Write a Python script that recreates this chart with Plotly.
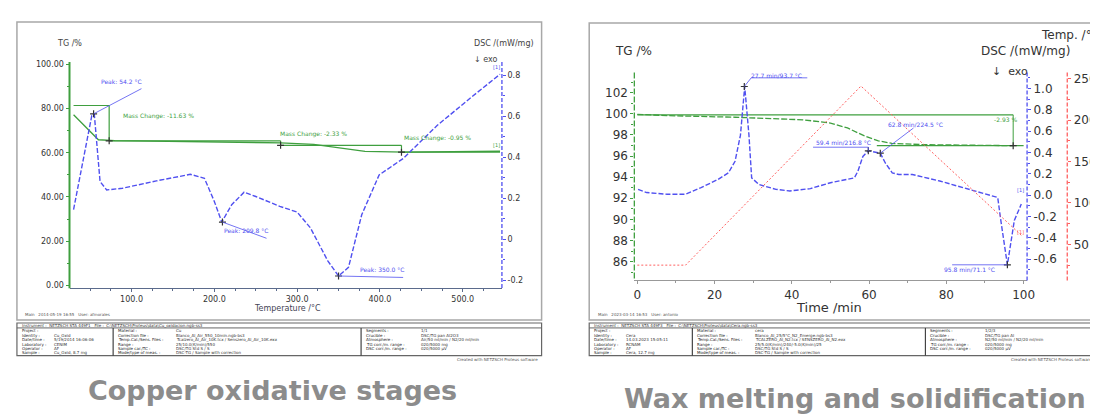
import plotly.graph_objects as go

W, H = 1098, 418

# ---------------- Copper oxidative stages (left) ----------------
cu_tg_temp = [30, 45, 60, 80, 120, 200, 280, 320, 350, 382, 430, 480, 545]
cu_tg = [77.2, 71.5, 65.9, 65.5, 65.3, 65.0, 64.5, 63.8, 62.3, 60.6, 60.3, 60.4, 60.7]

cu_dsc_temp = [30, 52, 55, 59, 62, 70, 89, 130, 171, 188, 200, 209, 221, 236, 250, 279,
               300, 316, 337, 350, 362, 378, 399, 428, 469, 510, 545]
cu_dsc = [0.145, 0.603, 0.612, 0.443, 0.282, 0.241, 0.249, 0.285, 0.317, 0.298, 0.185, 0.084,
          0.169, 0.23, 0.209, 0.161, 0.133, 0.056, -0.105, -0.179, -0.137, 0.12, 0.314, 0.394,
          0.555, 0.692, 0.805]

cu_step_temp = [30, 73, 280, 426, 545]
cu_step_tg = [81.4, 65.4, 63.4, 60.3]
cu_mass_labels = ["Mass Change: -11.63 %", "Mass Change: -2.33 %", "Mass Change: -0.95 %"]

cu_peak_temp = [54.2, 209.8, 350.0]
cu_peak_dsc = [0.612, 0.084, -0.179]
cu_peak_labels = ["Peak: 54.2 °C", "Peak: 209.8 °C", "Peak: 350.0 °C"]

cu_tg_ticks = [0, 20, 40, 60, 80, 100]
cu_dsc_ticks = [-0.2, 0, 0.2, 0.4, 0.6, 0.8]
cu_dsc_ticktext = ["-0.2", "0", "0.2", "0.4", "0.6", "0.8"]
cu_temp_ticks = [100, 200, 300, 400, 500]

# ---------------- Wax melting and solidification (right) ----------------
wax_tg_time = [0, 7.7, 25.3, 42.9, 50, 54.4, 58.8, 62.4, 65.9, 74.7, 97.3]
wax_tg = [99.95, 99.83, 99.67, 99.43, 99.12, 98.66, 97.9, 97.44, 97.19, 97.07, 96.98]

wax_dsc_time = [0.2, 2.4, 7.7, 12.5, 16.5, 20.9, 23.6, 25.3, 26.7, 27.8, 28.9, 29.6, 31.5, 35.9,
                39.5, 44.8, 50, 56.2, 57.1, 58.4, 59.8, 61.5, 62.9, 64.2, 66, 67.7, 71.2, 78.3,
                87.1, 92.7, 93.3, 94.1, 95.8, 97.6, 99.4]
wax_dsc = [0.055, 0.025, 0.009, 0.009, 0.071, 0.148, 0.21, 0.318, 0.563, 1.019, 0.563, 0.163,
           0.10, 0.055, 0.04, 0.062, 0.117, 0.163, 0.225, 0.364, 0.416, 0.403, 0.394, 0.302,
           0.21, 0.194, 0.194, 0.133, 0.04, -0.012, -0.021, -0.236, -0.652, -0.236, -0.083]

wax_temp_time = [0, 12.5, 57.9, 99.4]
wax_temp = [25, 25, 241, 61]

wax_tg_ref = [99.9, 96.98]
wax_mass_label = "-2.93 %"

wax_peak_time = [27.7, 59.8, 62.9, 95.8]
wax_peak_dsc = [1.019, 0.416, 0.394, -0.652]
wax_peak_labels = ["27.7 min/93.7 °C", "59.4 min/216.8 °C", "62.8 min/224.5 °C", "95.8 min/71.1 °C"]

wax_tg_ticks = [86, 88, 90, 92, 94, 96, 98, 100, 102]
wax_dsc_ticks = [-0.6, -0.4, -0.2, 0.0, 0.2, 0.4, 0.6, 0.8, 1.0]
wax_dsc_ticktext = ["-0.6", "-0.4", "-0.2", "0.0", "0.2", "0.4", "0.6", "0.8", "1.0"]
wax_temp_ticks = [50, 100, 150, 200, 250]
wax_time_ticks = [0, 20, 40, 60, 80, 100]

captions = ["Copper oxidative stages", "Wax melting and solidification"]

# ---------------- helpers ----------------
def fx(x):
    return x / W

def fy(y):
    return 1 - y / H

GREEN = "#3f9f3f"
BLUE = "#5050f0"
RED = "#ff6060"
FONT = "DejaVu Sans"

fig = go.Figure()

# ----- left traces -----
fig.add_trace(go.Scatter(x=cu_tg_temp, y=cu_tg, xaxis="x", yaxis="y", mode="lines",
                         line=dict(color=GREEN, width=1.3), hoverinfo="skip"))
sx, sy = [], []
for i in range(len(cu_step_tg)):
    sx += [cu_step_temp[i], cu_step_temp[i + 1], None]
    sy += [cu_step_tg[i], cu_step_tg[i], None]
    if i + 1 < len(cu_step_tg):
        sx += [cu_step_temp[i + 1], cu_step_temp[i + 1], None]
        sy += [cu_step_tg[i], cu_step_tg[i + 1], None]
fig.add_trace(go.Scatter(x=sx, y=sy, xaxis="x", yaxis="y", mode="lines",
                         line=dict(color=GREEN, width=1.2), hoverinfo="skip"))
fig.add_trace(go.Scatter(x=cu_step_temp[1:4], y=cu_step_tg[1:4], xaxis="x", yaxis="y", mode="markers",
                         marker=dict(symbol="cross-thin", size=5, line=dict(color="#333", width=1.2)),
                         hoverinfo="skip"))
fig.add_trace(go.Scatter(x=cu_dsc_temp, y=cu_dsc, xaxis="x", yaxis="y2", mode="lines",
                         line=dict(color=BLUE, width=1.4, dash="5px,2px"), hoverinfo="skip"))
fig.add_trace(go.Scatter(x=cu_peak_temp, y=cu_peak_dsc, xaxis="x", yaxis="y2", mode="markers",
                         marker=dict(symbol="cross-thin", size=5, line=dict(color="#333", width=1.2)),
                         hoverinfo="skip"))

cu_label_pos = [(62, 0.735), (213, 0.005), (378, -0.186)]
cu_label_end = [(112, 0.735), (263, 0.005), (428, -0.186)]
lx, ly = [], []
for (pt, pdv), (ax_, ay_), (ex, ey) in zip(zip(cu_peak_temp, cu_peak_dsc), cu_label_pos, cu_label_end):
    lx += [pt, ex, None] if pt < ax_ else [pt, ax_, ex, None]
    ly += [pdv, ey, None] if pt < ax_ else [pdv, ay_, ey, None]
fig.add_trace(go.Scatter(x=lx, y=ly, xaxis="x", yaxis="y2", mode="lines",
                         line=dict(color=BLUE, width=0.8), hoverinfo="skip"))

# ----- right traces -----
fig.add_trace(go.Scatter(x=wax_temp_time, y=wax_temp, xaxis="x2", yaxis="y5", mode="lines",
                         line=dict(color=RED, width=1, dash="2px,2px"), hoverinfo="skip"))
fig.add_trace(go.Scatter(x=[0, 97.3, None, 62, 100], y=[wax_tg_ref[0], wax_tg_ref[0], None, wax_tg_ref[1], wax_tg_ref[1]],
                         xaxis="x2", yaxis="y3", mode="lines", line=dict(color=GREEN, width=1.4), hoverinfo="skip"))
fig.add_trace(go.Scatter(x=[97.3, 97.3], y=wax_tg_ref, xaxis="x2", yaxis="y3", mode="lines",
                         line=dict(color=GREEN, width=1), hoverinfo="skip"))
fig.add_trace(go.Scatter(x=wax_tg_time, y=wax_tg, xaxis="x2", yaxis="y3", mode="lines",
                         line=dict(color=GREEN, width=1.3, dash="6px,2px"), hoverinfo="skip"))
fig.add_trace(go.Scatter(x=[97.3], y=[wax_tg_ref[1]], xaxis="x2", yaxis="y3", mode="markers",
                         marker=dict(symbol="cross-thin", size=5, line=dict(color="#333", width=1.2)),
                         hoverinfo="skip"))
fig.add_trace(go.Scatter(x=wax_dsc_time, y=wax_dsc, xaxis="x2", yaxis="y4", mode="lines",
                         line=dict(color=BLUE, width=1.4, dash="5px,2px"), hoverinfo="skip"))
fig.add_trace(go.Scatter(x=wax_peak_time, y=wax_peak_dsc, xaxis="x2", yaxis="y4", mode="markers",
                         marker=dict(symbol="cross-thin", size=5, line=dict(color="#333", width=1.2)),
                         hoverinfo="skip"))
wax_label_lines = [((29.5, 1.1), (44, 1.1)), ((59.8, 0.45), (45.5, 0.45)),
                   ((71.5, 0.63), (71.5, 0.63)), ((95.8, -0.652), (81.5, -0.652))]
wx, wy = [], []
for (pt, pdv), (a, b) in zip(zip(wax_peak_time, wax_peak_dsc), wax_label_lines):
    wx += [pt, a[0], b[0], None]
    wy += [pdv, a[1], b[1], None]
fig.add_trace(go.Scatter(x=wx, y=wy, xaxis="x2", yaxis="y4", mode="lines",
                         line=dict(color=BLUE, width=0.8), hoverinfo="skip"))

# ---------------- annotations ----------------
ann = []

def text(x, y, s, size, color="#333", xanchor="center", yanchor="middle", xref="paper", yref="paper",
         bold=False, family=FONT):
    if xref == "paper":
        x = fx(x)
    if yref == "paper":
        y = fy(y)
    ann.append(dict(x=x, y=y, xref=xref, yref=yref, text=("<b>%s</b>" % s) if bold else s,
                    showarrow=False, xanchor=xanchor, yanchor=yanchor,
                    font=dict(size=size, color=color, family=family)))

# left panel titles
text(61, 34, "TG /%", 8, "#444")
text(499, 34, "DSC /(mW/mg)", 8, "#444")
text(481, 50, "↓ exo", 8, "#444")
text(281, 301, "Temperature /°C", 8, "#445")
text(14, 307, "Main   2014-05-19 16:55   User: afmorales", 4, "#555", xanchor="left")
text(88, 0.745, cu_peak_labels[0], 6, BLUE, xref="x", yref="y2", yanchor="bottom")
text(238, 0.015, cu_peak_labels[1], 6, BLUE, xref="x", yref="y2", yanchor="bottom")
text(403, -0.176, cu_peak_labels[2], 6, BLUE, xref="x", yref="y2", yanchor="bottom")
text(132, 76.5, cu_mass_labels[0], 6, GREEN, xref="x", yref="y")
text(320, 68.5, cu_mass_labels[1], 6, GREEN, xref="x", yref="y")
text(470, 66.5, cu_mass_labels[2], 6, GREEN, xref="x", yref="y")
text(541, 63.5, "[1]", 5, GREEN, xref="x", yref="y")
text(541, 0.84, "[1]", 5, BLUE, xref="x", yref="y2")

# right panel titles
text(630, 41, "TG /%", 12, "#333")
text(1025, 41, "DSC /(mW/mg)", 12, "#333")
text(1070, 25, "Temp. /°C", 12, "#333")
text(1009, 62, "↓  exo", 11, "#333")
text(827, 300, "Time /min", 13, "#333")
text(592, 307, "Main   2023-03-14 16:53   User: antonio", 4, "#555", xanchor="left")
text(36, 1.12, wax_peak_labels[0], 6, BLUE, xref="x2", yref="y4")
text(53.5, 0.49, wax_peak_labels[1], 6, BLUE, xref="x2", yref="y4")
text(72, 0.66, wax_peak_labels[2], 6, BLUE, xref="x2", yref="y4")
text(86, -0.70, wax_peak_labels[3], 6, BLUE, xref="x2", yref="y4")
text(95.3, 99.45, wax_mass_label, 6, GREEN, xref="x2", yref="y3")
text(99.2, 0.05, "[1]", 5, BLUE, xref="x2", yref="y4")
text(99.2, 65, "[1]", 5, RED, xref="x2", yref="y5")

# captions
text(266, 384, captions[0], 27, "#8c8c8c", bold=True)
text(853, 392, captions[1], 27, "#8c8c8c", bold=True)

# ---------------- frames and info tables ----------------
shapes = []

def rect(x0, y0, x1, y1, color="#a8a8a8", width=1.5):
    shapes.append(dict(type="rect", xref="paper", yref="paper", x0=fx(x0), x1=fx(x1), y0=fy(y1), y1=fy(y0),
                       line=dict(color=color, width=width), layer="below"))

def line(x0, y0, x1, y1, color, width=1, dash="solid"):
    shapes.append(dict(type="line", xref="paper", yref="paper", x0=fx(x0), x1=fx(x1), y0=fy(y0), y1=fy(y1),
                       line=dict(color=color, width=width, dash=dash)))

rect(8, 12, 537, 313)
rect(585, 13, 1110, 313)

line(61, 52.5, 61, 281, GREEN, 2)
line(497, 52.5, 497, 281, BLUE, 1.3, "4px,2px")
line(630.5, 63, 630.5, 273, GREEN, 1.3, "6px,2px")
line(1026.5, 63, 1026.5, 273, BLUE, 1.3, "4px,2px")
line(1067, 63, 1067, 273, RED, 1.3, "4px,2px")

tables = [
    dict(x0=8, x1=537, cols=[8, 105, 355, 537],
         instr="Instrument :  NETZSCH STA 449F1   File :  C:\\NETZSCH\\Proteus\\data\\Cu_oxidacion.ngb-ss3",
         left=[("Project :", ""), ("Identity :", "Cu_Oxid"), ("Date/time :", "5/19/2014 16:06:06"),
               ("Laboratory :", "CENIM"), ("Operator :", "AF"), ("Sample :", "Cu_Oxid, 8.7 mg")],
         mid=[("Material :", "Cu"), ("Correction file :", "Blanco_Al_Air_550_10min.ngb-bs3"),
              ("Temp.Cal./Sens. Files :", "Tcalzero_Al_Air_10K.tcx / Senszero_Al_Air_10K.exx"),
              ("Range :", "25/10.0(K/min)/550"), ("Sample car./TC :", "DSC/TG Std S / S"),
              ("Mode/type of meas. :", "DSC-TG / Sample with correction")],
         right=[("Segments :", "1/1"), ("Crucible :", "DSC/TG pan Al2O3"),
                ("Atmosphere :", "Air/50 ml/min / N2/20 ml/min"), ("TG corr./m. range :", "020/5000 mg"),
                ("DSC corr./m. range :", "020/5000 µV")],
         credit="Created with NETZSCH Proteus software"),
    dict(x0=585, x1=1110, cols=[585, 689, 924, 1110],
         instr="Instrument :  NETZSCH STA 449F3   File :  C:\\NETZSCH\\Proteus\\data\\Cera.ngb-ss3",
         left=[("Project :", ""), ("Identity :", "Cera"), ("Date/time :", "14.03.2023 15:05:11"),
               ("Laboratory :", "RCNAM"), ("Operator :", "AF"), ("Sample :", "Cera, 12.7 mg")],
         mid=[("Material :", "cera"), ("Correction file :", "Blanco_Al_25/5°C_N2_Emerge.ngb-bs3"),
              ("Temp.Cal./Sens. Files :", "TCALZERO_Al_N2.tcx / SENSZERO_Al_N2.exx"),
              ("Range :", "25/5.0(K/min)/240/-5.0(K/min)/25"), ("Sample car./TC :", "DSC/TG Std S / S"),
              ("Mode/type of meas. :", "DSC-TG / Sample with correction")],
         right=[("Segments :", "1/2/3"), ("Crucible :", "DSC/TG pan Al"),
                ("Atmosphere :", "N2/50 ml/min / N2/20 ml/min"), ("TG corr./m. range :", "020/5000 mg"),
                ("DSC corr./m. range :", "020/5000 µV")],
         credit="Created with NETZSCH Proteus software"),
]
TY0, TY1, TY2 = 316, 321, 349
for t in tables:
    rect(t["x0"], TY0, t["x1"], TY2, "#666", 1.2)
    line(t["x0"], TY1, t["x1"], TY1, "#666", 1)
    for cx in t["cols"][1:3]:
        line(cx, TY1, cx, TY2, "#444", 1.2)
    text(t["x0"] + 3, (TY0 + TY1) / 2, t["instr"], 4, "#333", xanchor="left")
    for ci, key, lab_w in ((0, "left", 32), (1, "mid", 58), (2, "right", 55)):
        cx = t["cols"][ci] + 3
        for ri, (k, v) in enumerate(t[key]):
            yy = TY1 + 2.8 + ri * 4.5
            text(cx, yy, k, 4, "#222", xanchor="left")
            text(cx + lab_w, yy, v, 4, "#333", xanchor="left")
    text(min(t["x1"], 1096) - 2, 353, t["credit"], 4, "#555", xanchor="right")

# ---------------- axes ----------------
tickfont_small = dict(size=8, color="#333", family=FONT)
tickfont_big = dict(size=12, color="#333", family=FONT)

fig.update_layout(
    width=W, height=H, margin=dict(l=0, r=0, t=0, b=0),
    paper_bgcolor="white", plot_bgcolor="rgba(0,0,0,0)", showlegend=False,
    annotations=ann, shapes=shapes,
    xaxis=dict(domain=[fx(61), fx(497)], range=[25.1, 547.3], anchor="y", tickvals=cu_temp_ticks,
               tickformat=".1f", showgrid=False, zeroline=False, showline=True, linecolor="#5b6b8c",
               linewidth=1.2, ticks="outside", ticklen=3, tickcolor="#5b6b8c", tickfont=tickfont_small,
               minor=dict(dtick=25, ticks="outside", ticklen=2, tickcolor="#5b6b8c")),
    yaxis=dict(domain=[fy(281), fy(52.5)], range=[-1.35, 101.1], anchor="x", tickvals=cu_tg_ticks,
               tickformat=".2f", showgrid=False, zeroline=False, showline=False, ticks="outside",
               ticklen=3, tickcolor=GREEN, tickfont=tickfont_small,
               minor=dict(dtick=10, ticks="outside", ticklen=2, tickcolor=GREEN)),
    yaxis2=dict(overlaying="y", side="right", anchor="x", range=[-0.239, 0.865], tickvals=cu_dsc_ticks,
                ticktext=cu_dsc_ticktext, showgrid=False, zeroline=False, showline=False, ticks="outside",
                ticklen=3, tickcolor=BLUE, tickfont=tickfont_small,
                minor=dict(dtick=0.1, ticks="outside", ticklen=2, tickcolor=BLUE)),
    xaxis2=dict(domain=[fx(630.5), fx(1026.5)], range=[-0.77, 100.9], anchor="y3", tickvals=wax_time_ticks,
                showgrid=False, zeroline=False, showline=True, linecolor="#999", linewidth=1,
                ticks="outside", ticklen=3, tickcolor="#999", tickfont=tickfont_big,
                minor=dict(dtick=10, ticks="outside", ticklen=2, tickcolor="#999")),
    yaxis3=dict(domain=[fy(273), fy(63)], range=[84.22, 103.92], anchor="x2", tickvals=wax_tg_ticks,
                showgrid=False, zeroline=False, showline=False, ticks="outside", ticklen=3,
                tickcolor=GREEN, tickfont=tickfont_big,
                minor=dict(dtick=1, ticks="outside", ticklen=2, tickcolor=GREEN)),
    yaxis4=dict(overlaying="y3", side="right", anchor="x2", range=[-0.798, 1.151], tickvals=wax_dsc_ticks,
                ticktext=wax_dsc_ticktext, showgrid=False, zeroline=False, showline=False,
                ticks="outside", ticklen=3, tickcolor=BLUE, tickfont=tickfont_big,
                minor=dict(dtick=0.1, ticks="outside", ticklen=2, tickcolor=BLUE)),
    yaxis5=dict(overlaying="y3", side="right", anchor="free", position=fx(1067), range=[6.6, 257.5],
                tickvals=wax_temp_ticks, showgrid=False, zeroline=False, showline=False,
                ticks="outside", ticklen=3, tickcolor=RED, tickfont=tickfont_big,
                minor=dict(dtick=25, ticks="outside", ticklen=2, tickcolor=RED)),
)

fig.write_html("out.html")
